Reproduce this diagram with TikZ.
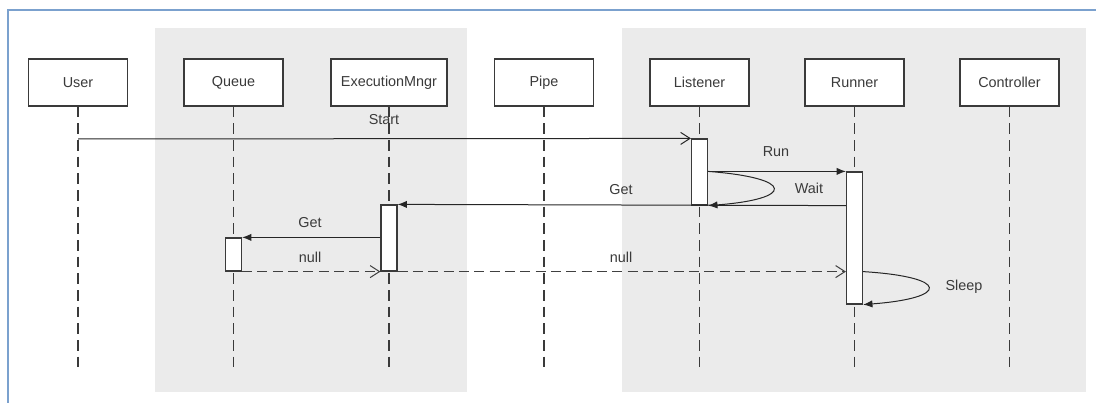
\documentclass[tikz,border=0pt]{standalone}
\usepackage{fontspec}
\setmainfont{Liberation Sans}
\usepackage{tikz}
\usetikzlibrary{arrows.meta, positioning}
\definecolor{panelgray}{HTML}{EBEBEB}
\definecolor{frameblue}{HTML}{7BA1CE}
\definecolor{inkgray}{HTML}{3A3A3A}

\begin{document}
\begin{tikzpicture}[x=0.75pt, y=-0.75pt, >=Latex,
		font=\fontsize{10.8}{12}\selectfont,
		actor/.style={draw=inkgray, line width=1.1pt, fill=white, minimum width=74.25pt, minimum height=35.25pt, inner sep=0pt, text=inkgray},
		lifeline/.style={draw=inkgray, line width=0.85pt, dash pattern=on 8pt off 4.5pt},
		activation/.style={draw=inkgray, line width=0.9pt, fill=white, minimum width=12pt, inner sep=0pt},
		msg/.style={draw=black!85, line width=0.75pt, -{Latex[length=7pt, width=5.5pt]}},
		reply/.style={draw=black!75, line width=0.75pt, dash pattern=on 7.5pt off 4pt, -{Straight Barb[length=7pt, width=9pt]}},
		lbl/.style={text=inkgray}]
		
		% 1. 画布与背景分区
		\useasboundingbox (0,0) rectangle (1096,403);
		\fill[panelgray] (155,28) rectangle (467,392);
		\fill[panelgray] (622,28) rectangle (1086,392);
		\draw[frameblue, line width=1.8pt] (8,403) -- (8,10) -- (1096,10);
		
		% 2. 参与者方框
		\node[actor] (user) at (78,82.5) {User};
		\node[actor] (queue) at (233.5,82.5) {Queue};
		\node[actor, minimum width=87pt] (mngr) at (389,82.5) {ExecutionMngr};
		\node[actor] (pipe) at (544,82.5) {Pipe};
		\node[actor] (listener) at (699.5,82.5) {Listener};
		\node[actor] (runner) at (854.5,82.5) {Runner};
		\node[actor] (ctrl) at (1009.5,82.5) {Controller};
		
		% 3. 生命线 (虚线)
		\coordinate (userEnd) at (78,368);
		\coordinate (queueEnd) at (233.5,368);
		\coordinate (mngrEnd) at (389,368);
		\coordinate (pipeEnd) at (544,368);
		\coordinate (listenerEnd) at (699.5,368);
		\coordinate (runnerEnd) at (854.5,368);
		\coordinate (ctrlEnd) at (1009.5,368);
		\draw[lifeline] (user.south) -- (userEnd);
		\draw[lifeline] (queue.south) -- (queueEnd);
		\draw[lifeline] (mngr.south) -- (mngrEnd);
		\draw[lifeline] (pipe.south) -- (pipeEnd);
		\draw[lifeline] (listener.south) -- (listenerEnd);
		\draw[lifeline] (runner.south) -- (runnerEnd);
		\draw[lifeline] (ctrl.south) -- (ctrlEnd);
		
		% 4. 激活条
		\node[activation, minimum height=49.5pt] (actL) at (699.5,172) {};
		\node[activation, minimum height=99pt] (actR) at (854.5,238) {};
		\node[activation, minimum height=49.5pt] (actM) at (389,238) {};
		\node[activation, minimum height=24.75pt] (actQ) at (233.5,254.5) {};
		
		% 5. 消息
		\coordinate (startFrom) at (78,139);
		\draw[msg, -{Straight Barb[length=7pt, width=9pt]}] (startFrom) -- (actL.north west);
		\draw[msg] (actR.north west -| actL.east) -- (actR.north west);
		\draw[msg] (actR.north west -| actL.east) .. controls (795,178) and (795,199) .. (actL.south east);
		\draw[msg] (actL.south -| actR.west) -- (actM.north east);
		\draw[msg] (actQ.north -| actM.west) -- (actQ.north east);
		\draw[reply] (actQ.south east) -- (actM.south west);
		\draw[reply] (actM.south east) -- (actM.south -| actR.west);
		\draw[msg] (actM.south -| actR.east) .. controls (950,277) and (950,298) .. (actR.south east);
		
		% 6. 消息标签
		\node[lbl] (startLbl) at (384,120) {Start};
		\node[lbl] (runLbl) at (776,152) {Run};
		\node[lbl] (waitLbl) at (809,188) {Wait};
		\node[lbl] (getLbl) at (621,190) {Get};
		\node[lbl] (getLbl2) at (310,223) {Get};
		\node[lbl] (nullLbl) at (310,257) {null};
		\node[lbl] (nullLbl2) at (621,257) {null};
		\node[lbl] (sleepLbl) at (964,287) {Sleep};
		
	\end{tikzpicture}
\end{document}
